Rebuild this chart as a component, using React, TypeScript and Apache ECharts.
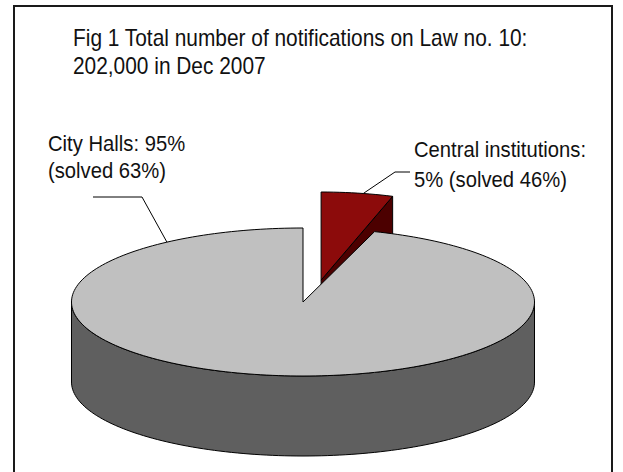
import React, { useEffect, useRef } from "react";
import * as echarts from "echarts";

// ---- data ----
const categories = ["Central institutions", "City Halls"];
const shares = [5, 95]; // % of notifications
const solvedPct = [46, 63]; // % solved
const totalNotifications = "202,000";
const titleLines = [
  "Fig 1 Total number of notifications on Law no. 10:",
  `${totalNotifications} in Dec 2007`,
];
const labelLines = [
  [`${categories[0]}:`, `${shares[0]}% (solved ${solvedPct[0]}%)`],
  [`${categories[1]}: ${shares[1]}%`, `(solved ${solvedPct[1]}%)`],
];

// ---- layout / style ----
const CX = 303;
const CY = 302;
const RX = 231.5;
const RY = 74;
const DEPTH = 80;
const explodeX = [0.5, 0];
const explodeY = [0.3, 0];
const ryScale = [1.19, 1];
const topColors = ["#8c0b0b", "#c0c0c0"];
const sideColors = ["#4c0000", "#5f5f5f"];
const labelBox = [
  { x: 414, y: 134, lineHeight: 30 },
  { x: 48, y: 130, lineHeight: 27 },
];
const leaderKnee = [
  [
    [410, 172],
    [395, 172],
  ],
  [
    [93, 197],
    [142, 197],
  ],
];
const leaderAnchorDeg = [10.5, 324];
const FONT = "'Liberation Sans', Arial, sans-serif";

const deg = Math.PI / 180;

function renderItem(params: any, api: any) {
  const i = params.dataIndex;
  const total = shares.reduce((s, v) => s + v, 0);
  let before = 0;
  for (let j = 0; j < i; j++) before += shares[j];
  const v = api.value(0);
  const a0 = (before / total) * 2 * Math.PI;
  const a1 = ((before + v) / total) * 2 * Math.PI;
  const mid = (a0 + a1) / 2;
  const ox = explodeX[i] * RX * Math.sin(mid);
  const oy = -explodeY[i] * RY * Math.cos(mid);
  const ry = RY * ryScale[i];
  const pt = (t: number, h: number) => [
    CX + ox + RX * Math.sin(t),
    CY + oy - ry * Math.cos(t) + h,
  ];
  const arc = (s: number, e: number, h: number) => {
    const pts: number[][] = [];
    const n = Math.max(2, Math.ceil((e - s) / (1.5 * deg)));
    for (let k = 0; k <= n; k++) pts.push(pt(s + ((e - s) * k) / n, h));
    return pts;
  };
  const center = [CX + ox, CY + oy];
  const centerB = [CX + ox, CY + oy + DEPTH];
  const children: any[] = [];
  const lineStyle = { stroke: "#000", lineWidth: 1, lineJoin: "round" };

  // cut faces
  if (Math.sin(a1) > 1e-6) {
    const p = pt(a1, 0);
    const pb = pt(a1, DEPTH);
    children.push({
      type: "polygon",
      shape: { points: [center, p, pb, centerB] },
      style: { fill: sideColors[i], ...lineStyle },
    });
  }
  if (Math.sin(a0) < -1e-6) {
    const p = pt(a0, 0);
    const pb = pt(a0, DEPTH);
    children.push({
      type: "polygon",
      shape: { points: [center, p, pb, centerB] },
      style: { fill: sideColors[i], ...lineStyle },
    });
  }
  // outer wall (front half only)
  const ws = Math.max(a0, 90 * deg);
  const we = Math.min(a1, 270 * deg);
  if (we > ws) {
    const topArc = arc(ws, we, 0);
    const botArc = arc(ws, we, DEPTH).reverse();
    children.push({
      type: "polygon",
      shape: { points: [...topArc, ...botArc] },
      style: { fill: sideColors[i], ...lineStyle },
    });
  }
  // top face
  children.push({
    type: "polygon",
    shape: { points: [center, ...arc(a0, a1, 0)] },
    style: { fill: topColors[i], ...lineStyle },
  });
  // leader line
  const anchor = pt(leaderAnchorDeg[i] * deg, 0);
  children.push({
    type: "polyline",
    z2: 10,
    shape: { points: [...leaderKnee[i], anchor] },
    style: { stroke: "#000", lineWidth: 1, fill: null },
  });
  // label
  const lb = labelBox[i];
  children.push({
    type: "text",
    z2: 11,
    x: lb.x,
    y: lb.y,
    scaleX: 0.92,
    style: {
      text: labelLines[i].join("\n"),
      x: 0,
      y: 0,
      fill: "#111",
      fontSize: 22,
      fontFamily: FONT,
      lineHeight: lb.lineHeight,
      align: "left",
      verticalAlign: "top",
      textAlign: "left",
      textVerticalAlign: "top",
    },
  });
  return { type: "group", children };
}

export default function App() {
  const ref = useRef<HTMLDivElement>(null);
  useEffect(() => {
    if (!ref.current) return;
    const chart = echarts.init(ref.current, null, { renderer: "svg" });
    chart.setOption({
      animation: false,
      backgroundColor: "#ffffff",
      graphic: [
        {
          type: "rect",
          shape: { x: 14, y: 6, width: 598, height: 480 },
          style: { fill: "none", stroke: "#1a1a1a", lineWidth: 2 },
        },
        {
          type: "text",
          x: 73,
          y: 24,
          scaleX: 0.87,
          style: {
            text: titleLines.join("\n"),
            x: 0,
            y: 0,
            fill: "#111",
            fontSize: 24,
            fontFamily: FONT,
            lineHeight: 28,
            align: "left",
            verticalAlign: "top",
            textAlign: "left",
            textVerticalAlign: "top",
          },
        },
      ],
      series: [
        {
          type: "custom",
          coordinateSystem: "none",
          silent: true,
          renderItem,
          data: shares.map((v, i) => ({ name: categories[i], value: [v] })),
        },
      ],
    });
    return () => chart.dispose();
  }, []);
  return (
    <div
      ref={ref}
      style={{
        position: "absolute",
        left: 0,
        top: 0,
        width: 623,
        height: 472,
        background: "#fff",
      }}
    />
  );
}
